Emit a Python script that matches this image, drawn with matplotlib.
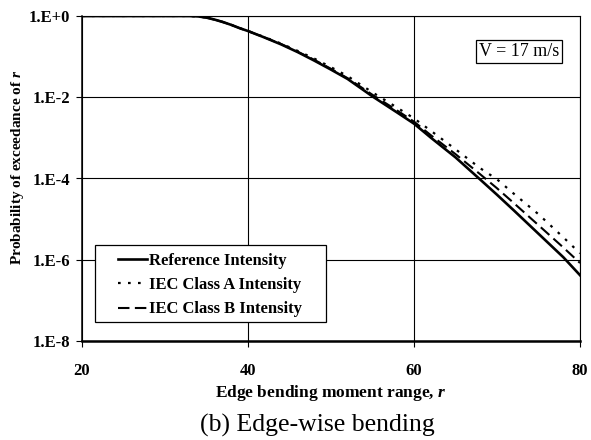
import matplotlib
matplotlib.use("Agg")
import matplotlib.pyplot as plt
from matplotlib.patches import Rectangle
import numpy as np

plt.rcParams["font.family"] = ["Liberation Serif", "DejaVu Serif"]
plt.rcParams["mathtext.fontset"] = "custom"
plt.rcParams["mathtext.it"] = "Liberation Serif:italic:bold"
plt.rcParams["mathtext.rm"] = "Liberation Serif:bold"

# Edge bending moment range r and log10 of probability of exceedance
r_vals = [20, 30, 33, 34, 35, 36, 37, 38, 39, 40, 42, 44, 46, 48, 50, 52, 55, 58, 60,
          62, 65, 68, 70, 72, 75, 78, 80]
logp_ref = [0, 0, 0, -0.01, -0.04, -0.09, -0.15, -0.22, -0.30, -0.37, -0.53, -0.70,
            -0.89, -1.10, -1.32, -1.55, -1.98, -2.38, -2.65, -2.99, -3.48, -4.03,
            -4.40, -4.78, -5.36, -5.94, -6.38]
logp_a = [0, 0, 0, -0.01, -0.04, -0.09, -0.15, -0.22, -0.30, -0.37, -0.52, -0.68,
          -0.86, -1.05, -1.26, -1.48, -1.88, -2.26, -2.52, -2.82, -3.28, -3.75,
          -4.02, -4.37, -4.88, -5.45, -5.84]
logp_b = [0, 0, 0, -0.01, -0.04, -0.09, -0.15, -0.22, -0.30, -0.37, -0.53, -0.69,
          -0.88, -1.08, -1.30, -1.53, -1.94, -2.33, -2.60, -2.93, -3.40, -3.90,
          -4.24, -4.60, -5.15, -5.70, -6.08]

x_ticks = [20, 40, 60, 80]
y_ticks = [1e0, 1e-2, 1e-4, 1e-6, 1e-8]
y_tick_labels = ["1.E+0", "1.E-2", "1.E-4", "1.E-6", "1.E-8"]

fig = plt.figure(figsize=(5.91, 4.40), dpi=100)
ax = fig.add_axes([82 / 591, 99 / 440, 498 / 591, 325 / 440])

ax.plot(r_vals, 10 ** np.array(logp_ref), color="black", lw=1.9, label="Reference Intensity")
ax.plot(r_vals, 10 ** np.array(logp_a), color="black", lw=1.6, ls=(0, (1.2, 3.3)),
        label="IEC Class A Intensity")
ax.plot(r_vals, 10 ** np.array(logp_b), color="black", lw=1.5, ls=(0, (5.5, 2.6)),
        label="IEC Class B Intensity")

ax.set_yscale("log")
ax.set_xlim(20, 80)
ax.set_ylim(1e-8, 1e0)
ax.set_xticks(x_ticks)
ax.set_yticks(y_ticks)
ax.set_yticklabels(y_tick_labels)
ax.minorticks_off()
ax.tick_params(axis="both", labelsize=12, length=4.5, width=0.8, colors="black")
ax.tick_params(axis="y", pad=4)
ax.tick_params(axis="x", pad=11)
for lab in ax.get_xticklabels() + ax.get_yticklabels():
    lab.set_fontweight("bold")
ax.grid(True, color="black", lw=0.8)

for side in ("top", "right"):
    ax.spines[side].set_linewidth(0.8)
ax.spines["left"].set_linewidth(1.1)
ax.spines["bottom"].set_linewidth(1.8)

ax.set_xlabel("Edge bending moment range, $r$", fontsize=12.5, fontweight="bold", labelpad=3)
ax.set_ylabel("Probability of exceedance of $r$", fontsize=11, fontweight="bold")
ax.yaxis.set_label_coords(-0.112, 0.535)

# legend text without its own frame, boxed by a fixed rectangle
leg = ax.legend(loc="center left", bbox_to_anchor=(0.072, 0.172), frameon=False,
                borderpad=0, borderaxespad=0, handlelength=1.75, handletextpad=0.1,
                labelspacing=0.5,
                prop={"family": "Liberation Serif", "weight": "bold", "size": 12})
ax.add_patch(Rectangle((0.0261, 0.0585), 0.464, 0.2365, transform=ax.transAxes,
                       fc="white", ec="black", lw=0.9, zorder=4.5))
leg.set_zorder(5)

ax.text(0.878, 0.891, "V = 17 m/s", transform=ax.transAxes, ha="center", va="center",
        fontsize=13, bbox=dict(boxstyle="square,pad=0.15", fc="white", ec="black", lw=0.9))

fig.text(0.537, 15 / 440, "(b) Edge-wise bending", ha="center", va="center", fontsize=18.5)

fig.savefig("out.png", dpi=100)
